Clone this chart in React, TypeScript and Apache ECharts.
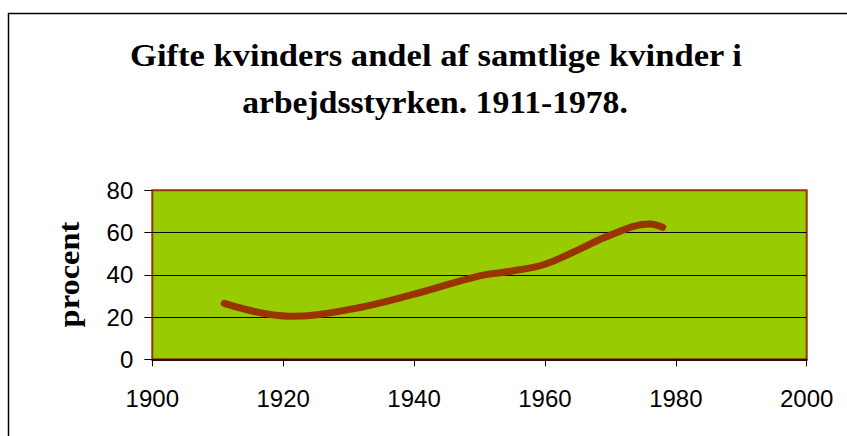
import React, { useEffect, useRef } from "react";
import * as echarts from "echarts";

const years = [1911, 1921, 1930, 1940, 1950, 1955, 1960, 1965, 1970, 1976, 1978];
const shares = [26.5, 20.4, 23.5, 30.8, 39.5, 41.8, 45.0, 51.7, 58.8, 64.0, 62.5];
const titleLines = ["Gifte kvinders andel af samtlige kvinder i", "arbejdsstyrken. 1911-1978."];
const yAxisTitle = "procent";

export default function App() {
  const ref = useRef<HTMLDivElement>(null);
  useEffect(() => {
    if (!ref.current) return;
    const chart = echarts.init(ref.current, null, { renderer: "svg" });
    const serif = '"Liberation Serif", "Times New Roman", serif';
    chart.setOption({
      animation: false,
      backgroundColor: "#ffffff",
      grid: {
        left: 152.3,
        top: 190.3,
        right: 40.3,
        bottom: 76.7,
        show: true,
        backgroundColor: "#99CC00",
        borderColor: "#993300",
        borderWidth: 2,
      },
      xAxis: {
        type: "value",
        min: 1900,
        max: 2000,
        interval: 20,
        axisLine: { show: true, lineStyle: { color: "#2a1200", width: 2 } },
        axisTick: { show: true, length: 7, lineStyle: { color: "#000", width: 1 } },
        axisLabel: {
          color: "#000",
          fontSize: 24,
          fontFamily: '"Liberation Sans", Arial, sans-serif',
          margin: 27,
          formatter: (v: number) => String(v),
        },
        splitLine: { show: false },
      },
      yAxis: {
        type: "value",
        min: 0,
        max: 80,
        interval: 20,
        axisLine: { show: false },
        axisTick: { show: true, length: 8, lineStyle: { color: "#000", width: 1 } },
        axisLabel: {
          color: "#000",
          fontSize: 24,
          fontFamily: '"Liberation Sans", Arial, sans-serif',
          margin: 19,
        },
        splitLine: {
          show: true,
          showMinLine: false,
          showMaxLine: false,
          lineStyle: { color: "#000", width: 1 },
        },
      },
      series: [
        {
          type: "line",
          data: years.map((y, i) => [y, shares[i]]),
          smooth: 0.4,
          symbol: "none",
          lineStyle: { color: "#993300", width: 7, cap: "round", join: "round" },
        },
      ],
      graphic: [
        {
          type: "rect",
          shape: { x: 8.5, y: 13.5, width: 900, height: 500 },
          style: { fill: "none", stroke: "#000", lineWidth: 1.5 },
          silent: true,
        },
        {
          type: "text",
          x: 436,
          y: 55.5,
          scaleX: 1.115,
          style: {
            text: titleLines[0],
            font: `bold 31px ${serif}`,
            fill: "#000",
            textAlign: "center",
            textVerticalAlign: "middle",
          },
        },
        {
          type: "text",
          x: 435,
          y: 102.5,
          scaleX: 1.085,
          style: {
            text: titleLines[1],
            font: `bold 31px ${serif}`,
            fill: "#000",
            textAlign: "center",
            textVerticalAlign: "middle",
          },
        },
        {
          type: "text",
          x: 70,
          y: 274.5,
          rotation: Math.PI / 2,
          scaleX: 1.12,
          style: {
            text: yAxisTitle,
            font: `bold 29px ${serif}`,
            fill: "#000",
            textAlign: "center",
            textVerticalAlign: "middle",
          },
        },
      ],
    });
    return () => chart.dispose();
  }, []);
  return (
    <div
      ref={ref}
      style={{ position: "absolute", left: 0, top: 0, width: 847, height: 436 }}
    />
  );
}
